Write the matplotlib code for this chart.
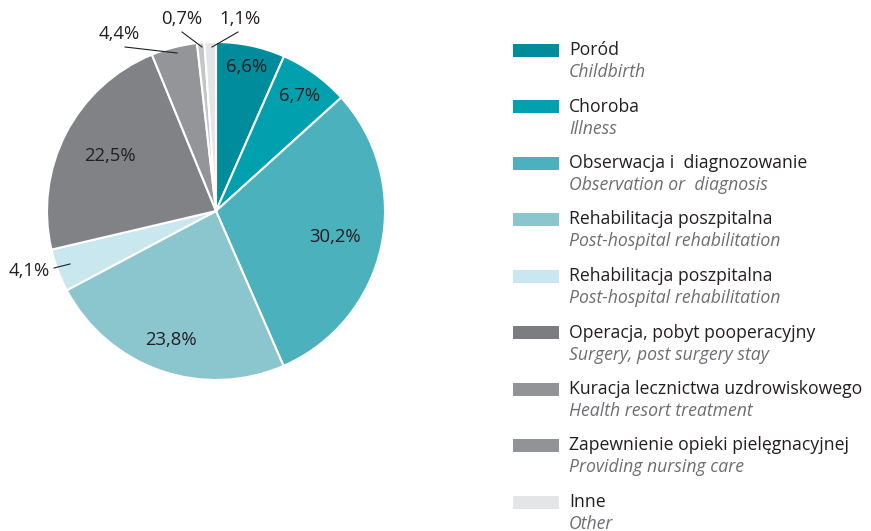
import numpy as np
import matplotlib
matplotlib.use("Agg")
import matplotlib.pyplot as plt
from matplotlib.patches import Rectangle

plt.rcParams['font.family'] = ['Open Sans', 'DejaVu Sans']

# dane
wartosci = [6.6, 6.7, 30.2, 23.8, 4.1, 22.5, 4.4, 0.7, 1.1]
etykiety = ['6,6%', '6,7%', '30,2%', '23,8%', '4,1%', '22,5%', '4,4%', '0,7%', '1,1%']
kolory_pie = ['#008c9a', '#00a0ae', '#4bb1bd', '#8bc6cf', '#c8e7ee',
              '#818285', '#949598', '#c4c5c7', '#e4e5e6']

legenda_pl = ['Poród', 'Choroba', 'Obserwacja i  diagnozowanie',
              'Rehabilitacja poszpitalna', 'Rehabilitacja poszpitalna',
              'Operacja, pobyt pooperacyjny', 'Kuracja lecznictwa uzdrowiskowego',
              'Zapewnienie opieki pielęgnacyjnej', 'Inne']
legenda_en = ['Childbirth', 'Illness', 'Observation or  diagnosis',
              'Post-hospital rehabilitation', 'Post-hospital rehabilitation',
              'Surgery, post surgery stay', 'Health resort treatment',
              'Providing nursing care', 'Other']
kolory_leg = ['#008c9a', '#00a0ae', '#4bb1bd', '#8bc6cf', '#c8e7ee',
              '#7c7d80', '#929396', '#929396', '#e4e5e6']

W, H = 871, 531
fig = plt.figure(figsize=(W / 100, H / 100), dpi=100)

# os z tortem (y do gory)
cx, cy, r = 216, 211, 169
ax2 = fig.add_axes([0, 0, 1, 1])
wedges, _ = ax2.pie(wartosci, colors=kolory_pie, startangle=90, counterclock=False,
                    center=(cx, H - cy), radius=r,
                    wedgeprops=dict(edgecolor='white', linewidth=1.5))
ax2.set_xlim(0, W)
ax2.set_ylim(0, H)
ax2.set_aspect('equal')
ax2.axis('off')

# os na teksty (y w dol, jak piksele)
ax = fig.add_axes([0, 0, 1, 1], zorder=5)
ax.patch.set_alpha(0)
ax.set_xlim(0, W)
ax.set_ylim(H, 0)
ax.set_aspect('equal')
ax.axis('off')

txt = '#231f20'
fs = 13.3
# etykiety wewnatrz
dist = {0: 0.87, 1: 0.84, 2: 0.72, 3: 0.81, 5: 0.71}
cum = np.cumsum([0] + wartosci[:-1])
for i, d in dist.items():
    ang = np.deg2rad(90 - (cum[i] + wartosci[i] / 2) * 3.6)
    x = cx + d * r * np.cos(ang)
    y = cy - d * r * np.sin(ang)
    ax.text(x, y, etykiety[i], ha='center', va='center', fontsize=fs, color=txt)

# etykiety na zewnatrz z liniami
zewn = {4: ((29, 271), (54, 268), (70, 264)),
        6: ((119, 34), (125, 47), (177, 53)),
        7: ((182, 19), (182, 32), (202, 47)),
        8: ((240, 19), (238, 32), (212, 47))}
for i, (t, p1, p2) in zewn.items():
    ax.text(t[0], t[1], etykiety[i], ha='center', va='center', fontsize=fs, color=txt)
    ax.plot([p1[0], p2[0]], [p1[1], p2[1]], color=txt, lw=0.8)

# legenda
y0 = 50
dy = 56.5
for i in range(len(legenda_pl)):
    y = y0 + i * dy
    ax.add_patch(Rectangle((513, y - 6.5), 46, 13, facecolor=kolory_leg[i], edgecolor='none'))
    ax.text(569, y, legenda_pl[i], ha='left', va='center', fontsize=12.7, color=txt)
    ax.text(569, y + 22, legenda_en[i], ha='left', va='center', fontsize=12.7,
            color='#6d6e71', style='italic')

fig.savefig('out.png', dpi=100)
